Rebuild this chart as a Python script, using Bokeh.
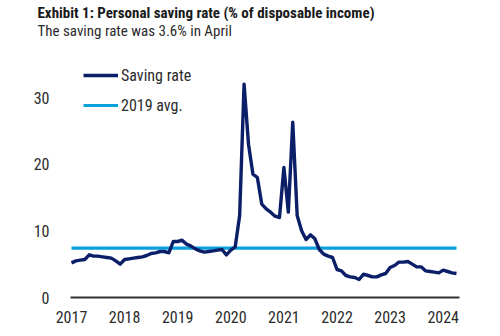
from bokeh.plotting import figure
from bokeh.models import Legend, LegendItem, FixedTicker, Range1d, Title
from bokeh.embed import file_html
from bokeh.resources import INLINE

# Personal saving rate, % of disposable income, monthly Jan 2017 - Apr 2024
years = [2017, 2018, 2019, 2020, 2021, 2022, 2023, 2024]
rate_2017 = [5.2, 5.5, 5.6, 5.7, 6.4, 6.2, 6.2, 6.1, 6.0, 5.9, 5.5, 5.0]
rate_2018 = [5.7, 5.8, 5.9, 6.0, 6.1, 6.3, 6.6, 6.7, 6.9, 6.9, 6.7, 8.4]
rate_2019 = [8.4, 8.6, 8.0, 7.7, 7.3, 7.0, 6.8, 6.9, 7.0, 7.1, 7.2, 6.4]
rate_2020 = [7.1, 7.6, 12.3, 32.0, 23.0, 18.5, 18.0, 14.0, 13.3, 12.8, 12.2, 12.0]
rate_2021 = [19.5, 12.8, 26.3, 12.3, 10.0, 8.7, 9.4, 8.8, 7.2, 6.5, 6.2, 6.0]
rate_2022 = [4.2, 4.0, 3.3, 3.1, 3.0, 2.7, 3.5, 3.3, 3.1, 3.1, 3.4, 3.6]
rate_2023 = [4.5, 4.8, 5.3, 5.3, 5.4, 5.0, 4.6, 4.6, 4.0, 3.9, 3.8, 3.7]
rate_2024 = [4.1, 3.9, 3.7, 3.6]
avg_2019 = 7.4

y_ticks = [0, 10, 20, 30]

series = [rate_2017, rate_2018, rate_2019, rate_2020,
          rate_2021, rate_2022, rate_2023, rate_2024]
dates, rates = [], []
for yr, vals in zip(years, series):
    for m, v in enumerate(vals):
        dates.append(yr + m / 12)
        rates.append(v)
avg_line = [avg_2019] * len(dates)

NAVY = "#0b1f68"
SKY = "#0aa0dc"
TEXT = "#2b2b2b"
FONT = "Liberation Sans Narrow, Roboto Condensed, Arial Narrow, sans-serif"

p = figure(width=500, height=336, output_backend="svg", toolbar_location=None,
           x_range=Range1d(2016.981, 2024.307), y_range=Range1d(0, 36),
           min_border_left=70, min_border_right=41,
           min_border_top=57, min_border_bottom=39)
p.outline_line_color = None
p.background_fill_color = "white"
p.border_fill_color = "white"
p.xgrid.visible = False
p.ygrid.visible = False

# headline on top, subheading just beneath it
p.title.text = "Exhibit 1: Personal saving rate (% of disposable income)"
p.title.text_font = FONT
p.title.text_font_size = "15px"
p.title.text_font_style = "bold"
p.title.text_color = "#1a1a1a"
p.title.align = "left"
p.title.offset = -33
p.title.standoff = -40
p.add_layout(Title(text="The saving rate was 3.6% in April",
                   text_font=FONT, text_font_size="15px", text_font_style="normal",
                   text_color=TEXT, align="left", offset=-33, standoff=36),
             "above")

r_avg = p.line(dates, avg_line, line_color=SKY, line_width=3.2)
r_rate = p.line(dates, rates, line_color=NAVY, line_width=3.4, line_join="round")

# axes
xa = p.xaxis[0]
xa.ticker = FixedTicker(ticks=years)
xa.major_tick_line_color = None
xa.minor_tick_line_color = None
xa.axis_line_color = "#333333"
xa.axis_line_width = 1.8
xa.major_label_standoff = 7
xa.major_label_text_font = FONT
xa.major_label_text_font_size = "16px"
xa.major_label_text_color = TEXT

ya = p.yaxis[0]
ya.ticker = FixedTicker(ticks=y_ticks)
ya.major_tick_line_color = None
ya.minor_tick_line_color = None
ya.axis_line_color = None
ya.major_label_standoff = 15
ya.major_label_text_font = FONT
ya.major_label_text_font_size = "16px"
ya.major_label_text_color = TEXT

legend = Legend(items=[LegendItem(label="Saving rate", renderers=[r_rate]),
                       LegendItem(label="2019 avg.", renderers=[r_avg])],
                location=(13, 182), orientation="vertical",
                glyph_width=35, glyph_height=20, label_height=20,
                label_standoff=3, spacing=10, padding=0, margin=0,
                border_line_color=None, background_fill_alpha=0,
                label_text_font=FONT, label_text_font_size="16px",
                label_text_color=TEXT)
p.add_layout(legend)

open("out.html", "w").write(file_html(p, INLINE))
